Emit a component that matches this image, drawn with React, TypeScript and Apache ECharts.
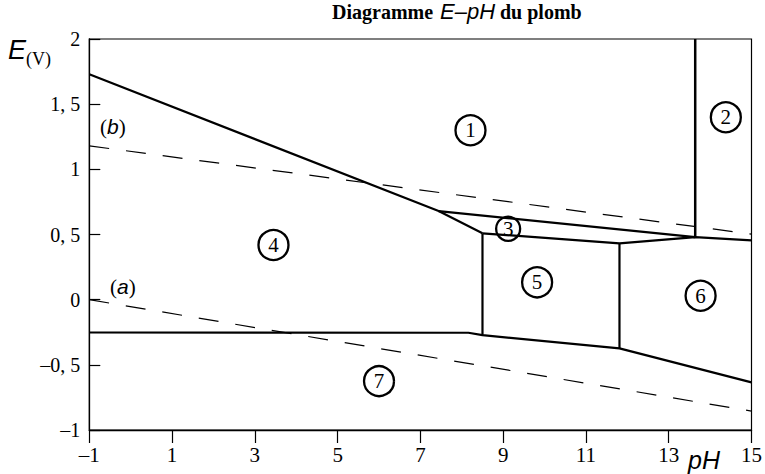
import React, { useEffect, useRef } from "react";
import * as echarts from "echarts";

// Axis ticks
const xTicks = [-1, 1, 3, 5, 7, 9, 11, 13, 15];
const yTicks = [-1, -0.5, 0, 0.5, 1, 1.5, 2];
const yTickLabels = ["\u20131", "\u20130, 5", "0", "0, 5", "1", "1, 5", "2"];

// Solid boundaries [pH, E]
const boundaryPbO2Left = [[-1, 1.73], [7.44, 0.68], [8.5, 0.509]];
const boundaryPbO2Upper = [[7.44, 0.68], [13.64, 0.48]];
const boundaryMiddle = [[8.5, 0.509], [11.81, 0.432], [13.64, 0.48], [15, 0.455]];
const boundaryVertical2 = [[13.64, 2], [13.64, 0.48]];
const boundaryVertical5Left = [[8.5, 0.509], [8.5, -0.272]];
const boundaryVertical5Right = [[11.81, 0.432], [11.81, -0.374]];
const boundaryPb = [[-1, -0.252], [8.16, -0.254], [8.5, -0.272], [11.81, -0.374], [15, -0.635]];

// Dashed water lines
const waterLineB = [[-1, 1.18], [15, 0.503]];
const waterLineA = [[-1, 0.0], [15, -0.855]];

// Region labels
const regionNames = ["1", "2", "3", "4", "5", "6", "7"];
const regionPH = [8.21, 14.38, 9.12, 3.45, 9.82, 13.77, 6.0];
const regionE = [1.3, 1.4, 0.544, 0.419, 0.133, 0.03, -0.625];
const regionSize = [30, 30, 24, 30, 30, 30, 30];

const SERIF = "'Liberation Serif', 'DejaVu Serif', serif";
const SANS = "'Liberation Sans', 'DejaVu Sans', sans-serif";

export default function App() {
  const ref = useRef<HTMLDivElement>(null);
  useEffect(() => {
    if (!ref.current) return;
    const chart = echarts.init(ref.current, null, { renderer: "svg" });
    const solid = (data: number[][], w = 2.2) => ({
      type: "line",
      data,
      showSymbol: false,
      symbol: "none",
      silent: true,
      lineStyle: { color: "#000", width: w },
    });
    const dashed = (data: number[][]) => ({
      type: "line",
      data,
      showSymbol: false,
      symbol: "none",
      silent: true,
      lineStyle: { color: "#000", width: 1.2, type: [20, 17] },
    });
    const txt = (text: string, left: number, top: number, font: string) => ({
      type: "text",
      left,
      top,
      style: { text, font, fill: "#000" },
    });
    const option: any = {
      animation: false,
      backgroundColor: "#fff",
      grid: {
        left: 89.3,
        right: 10.7,
        top: 39,
        bottom: 44,
        show: true,
        borderColor: "#000",
        borderWidth: 1.2,
        backgroundColor: "transparent",
      },
      xAxis: {
        type: "value",
        min: -1,
        max: 15,
        splitLine: { show: false },
        axisLine: { onZero: false, lineStyle: { color: "#000", width: 1.3 } },
        axisTick: { customValues: xTicks, length: 13, lineStyle: { color: "#000", width: 1.2 } },
        axisLabel: {
          customValues: xTicks,
          color: "#000",
          fontFamily: SERIF,
          fontSize: 21,
          margin: 14,
          formatter: (v: number) => (v < 0 ? "\u2013" + Math.abs(v) : String(v)),
        },
      },
      yAxis: {
        type: "value",
        min: -1,
        max: 2,
        interval: 0.5,
        splitLine: { show: false },
        axisLine: { onZero: false, lineStyle: { color: "#000", width: 1.3 } },
        axisTick: { inside: true, length: 11, lineStyle: { color: "#000", width: 1.2 } },
        axisLabel: {
          color: "#000",
          fontFamily: SERIF,
          fontSize: 20,
          margin: 9,
          formatter: (v: number) => {
            const i = yTicks.findIndex((t) => Math.abs(t - v) < 1e-9);
            return i >= 0 ? yTickLabels[i] : "";
          },
        },
      },
      series: [
        solid(boundaryPbO2Left),
        solid(boundaryPbO2Upper),
        solid(boundaryMiddle),
        solid(boundaryVertical2, 2.5),
        solid(boundaryVertical5Left),
        solid(boundaryVertical5Right),
        solid(boundaryPb),
        dashed(waterLineB),
        dashed(waterLineA),
        {
          type: "scatter",
          silent: true,
          data: regionNames.map((n, i) => ({
            name: n,
            value: [regionPH[i], regionE[i]],
            symbolSize: regionSize[i],
          })),
          itemStyle: { color: "rgba(255,255,255,0)", borderColor: "#000", borderWidth: 2.3, opacity: 1 },
          label: {
            show: true,
            position: "inside",
            formatter: (p: any) => p.name,
            color: "#000",
            fontFamily: SERIF,
            fontSize: 21,
          },
        },
      ],
      graphic: [
        txt("Diagramme", 332, 2, `bold 20px ${SERIF}`),
        txt("E\u2013pH", 440, 0, `italic 22px ${SANS}`),
        txt("du plomb", 500, 2, `bold 20px ${SERIF}`),
        txt("E", 8, 36, `italic 27px ${SANS}`),
        txt("(V)", 26, 50, `18px ${SERIF}`),
        {
          type: "text",
          left: 100,
          top: 116,
          style: {
            text: "{s|(}{i|b}{s|)}",
            rich: {
              s: { fontFamily: SERIF, fontSize: 21, fill: "#000" },
              i: { fontFamily: SANS, fontStyle: "italic", fontSize: 21, fill: "#000" },
            },
          },
        },
        {
          type: "text",
          left: 110,
          top: 276,
          style: {
            text: "{s|(}{i|a}{s|)}",
            rich: {
              s: { fontFamily: SERIF, fontSize: 21, fill: "#000" },
              i: { fontFamily: SANS, fontStyle: "italic", fontSize: 21, fill: "#000" },
            },
          },
        },
        txt("pH", 688, 447, `italic 25px ${SANS}`),
      ],
    };
    chart.setOption(option);
    return () => chart.dispose();
  }, []);
  return (
    <div
      ref={ref}
      style={{ position: "fixed", left: 0, top: 0, width: 765, height: 474, background: "#fff" }}
    />
  );
}
